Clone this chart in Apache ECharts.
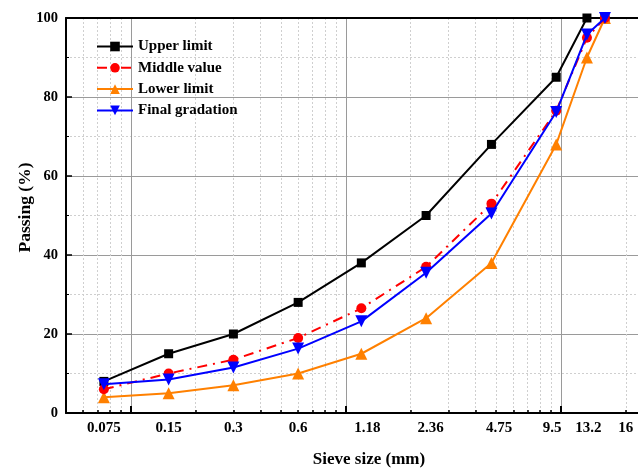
<!DOCTYPE html>
<html>
<head>
<meta charset="utf-8">
<script src="https://cdn.jsdelivr.net/npm/echarts@6/dist/echarts.min.js"></script>
<style>html,body{margin:0;padding:0;background:#fff;}#c{width:638px;height:468px;}</style>
</head>
<body>
<div id="c"></div>
<script>
const sieveSizes = [0.075, 0.15, 0.3, 0.6, 1.18, 2.36, 4.75, 9.5, 13.2, 16];
const upperLimit = [8, 15, 20, 28, 38, 50, 68, 85, 100, 100];
const middleValue = [6, 10, 13.5, 19, 26.5, 37, 53, 76.5, 95, 100];
const lowerLimit = [4, 5, 7, 10, 15, 24, 38, 68, 90, 100];
const finalGradation = [7.3, 8.5, 11.5, 16.3, 23.2, 35.5, 50.5, 76.2, 95.8, 100];
const xTickLabels = ['0.075', '0.15', '0.3', '0.6', '1.18', '2.36', '4.75', '9.5', '13.2', '16'];
// where the reference prints each tick label along the log axis
const xLabelPositions = [0.075, 0.15, 0.3, 0.6, 1.26, 2.48, 5.15, 9.1, 13.4, 20];
const xMajorTicks = [0.1, 1, 10];
const xMinorTicks = [0.06, 0.07, 0.08, 0.09, 0.2, 0.3, 0.4, 0.5, 0.6, 0.7, 0.8, 0.9, 2, 3, 4, 5, 6, 7, 8, 9, 20];
const seriesNames = ['Upper limit', 'Middle value', 'Lower limit', 'Final gradation'];

const FONT = '"Liberation Serif", "Times New Roman", serif';
const pair = arr => sieveSizes.map((s, i) => [s, arr[i]]);
const xMin = 0.05, xMax = 22.8;

const labelFor = v => {
  let bi = 0;
  xLabelPositions.forEach((p, i) => { if (Math.abs(Math.log10(p) - Math.log10(v)) < Math.abs(Math.log10(xLabelPositions[bi]) - Math.log10(v))) bi = i; });
  return xTickLabels[bi];
};

const chart = echarts.init(document.getElementById('c'), null, {renderer: 'canvas'});
chart.setOption({
  animation: false,
  backgroundColor: '#fff',
  grid: {left: 66, right: 0, top: 18, bottom: 55, containLabel: false, outerBoundsMode: 'none'},
  legend: {
    left: 91, top: 34, orient: 'vertical',
    itemWidth: 36, itemHeight: 12, itemGap: 6.3,
    data: seriesNames,
    textStyle: {fontFamily: FONT, fontWeight: 'bold', fontSize: 15, color: '#000'}
  },
  xAxis: [
    {
      type: 'log', logBase: 10, min: xMin, max: xMax, position: 'bottom',
      name: 'Sieve size (mm)', nameLocation: 'middle', nameGap: 38,
      nameTextStyle: {fontFamily: FONT, fontWeight: 'bold', fontSize: 17, color: '#000', padding: [0, 0, 0, 34]},
      axisLine: {show: true, lineStyle: {color: '#000', width: 2}},
      axisTick: {show: true, inside: true, length: 7, customValues: xMajorTicks, lineStyle: {color: '#000', width: 2}},
      axisLabel: {
        customValues: xLabelPositions, margin: 8,
        fontFamily: FONT, fontWeight: 'bold', fontSize: 15, color: '#000',
        formatter: labelFor
      },
      splitLine: {show: true, lineStyle: {color: '#9a9a9a', width: 1, type: 'solid'}}
    },
    {
      type: 'log', logBase: 10, min: xMin, max: xMax, position: 'bottom',
      axisLine: {show: false},
      axisTick: {show: true, inside: true, length: 3, customValues: xMinorTicks, lineStyle: {color: '#000', width: 1.5}},
      axisLabel: {show: false},
      splitLine: {show: true, lineStyle: {color: '#cfcfcf', width: 1, type: [2, 2]}}
    },
    {
      type: 'log', logBase: 10, min: xMin, max: xMax, position: 'top',
      axisLine: {show: true, lineStyle: {color: '#000', width: 2}},
      axisTick: {show: false}, axisLabel: {show: false}, splitLine: {show: false}
    }
  ],
  yAxis: {
    type: 'value', min: 0, max: 100, interval: 20,
    name: 'Passing (%)', nameLocation: 'middle', nameGap: 32, nameMoveOverlap: false,
    nameTextStyle: {fontFamily: FONT, fontWeight: 'bold', fontSize: 17.5, color: '#000', padding: [0, 0, 0, 16]},
    axisLine: {show: true, lineStyle: {color: '#000', width: 2}},
    axisTick: {show: true, inside: true, length: 6, lineStyle: {color: '#000', width: 1.5}},
    minorTick: {show: true, splitNumber: 2, length: 3, lineStyle: {color: '#000', width: 1}},
    axisLabel: {margin: 8, fontFamily: FONT, fontWeight: 'bold', fontSize: 14.5, color: '#000'},
    splitLine: {show: true, lineStyle: {color: '#9a9a9a', width: 1}},
    minorSplitLine: {show: true, lineStyle: {color: '#cfcfcf', width: 1, type: [2, 2]}}
  },
  series: [
    {
      name: seriesNames[0], type: 'line', xAxisIndex: 0, data: pair(upperLimit),
      symbol: 'rect', symbolSize: 9, itemStyle: {color: '#000'},
      lineStyle: {color: '#000', width: 2}, z: 3
    },
    {
      name: seriesNames[1], type: 'line', xAxisIndex: 0, data: pair(middleValue),
      symbol: 'circle', symbolSize: 10, itemStyle: {color: '#ff0000'},
      lineStyle: {color: '#ff0000', width: 2, type: [10, 6, 2, 6]}, z: 4
    },
    {
      name: seriesNames[2], type: 'line', xAxisIndex: 0, data: pair(lowerLimit),
      symbol: 'triangle', symbolSize: 12, itemStyle: {color: '#ff8000'},
      lineStyle: {color: '#ff8000', width: 2}, z: 3
    },
    {
      name: seriesNames[3], type: 'line', xAxisIndex: 0, data: pair(finalGradation),
      symbol: 'triangle', symbolRotate: 180, symbolSize: 12, itemStyle: {color: '#0000ff'},
      lineStyle: {color: '#0000ff', width: 2}, z: 5
    }
  ]
});
</script>
</body>
</html>
